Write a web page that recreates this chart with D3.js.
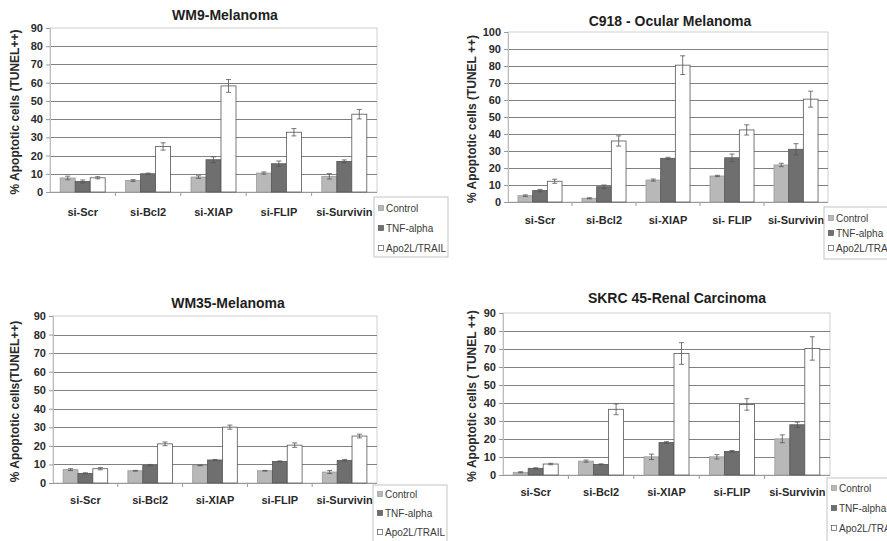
<!DOCTYPE html>
<html>
<head>
<meta charset="utf-8">
<script src="https://cdn.jsdelivr.net/npm/d3@7"></script>
<style>
body{margin:0;background:#fff}
svg{display:block;font-family:"Liberation Sans",Arial,sans-serif}
</style>
</head>
<body>
<svg width="887" height="541"></svg>
<script>
var seriesNames = ["Control", "TNF-alpha", "Apo2L/TRAIL"],
    groups = ["si-Scr", "si-Bcl2", "si-XIAP", "si-FLIP", "si-Survivin"],
    groupsC918 = ["si-Scr", "si-Bcl2", "si-XIAP", "si- FLIP", "si-Survivin"]

// rows: Control, TNF-alpha, Apo2L/TRAIL
var wm9Values = [[7.7, 6.3, 8.2, 10.4, 8.6], [5.8, 10, 17.7, 15.5, 16.8], [7.8, 25, 58.2, 32.8, 42.7]],
    wm9Errors = [[1, 0.5, 0.7, 0.6, 1.5], [0.8, 0.4, 1.6, 1.5, 0.8], [0.6, 2, 3.5, 2, 2.6]]

var c918Values = [[3.7, 2.2, 12.9, 15.3, 21.8], [6.7, 9, 25.7, 26, 31], [12.2, 35.9, 80.5, 42.4, 60.5]],
    c918Errors = [[0.5, 0.3, 0.6, 0.4, 1], [0.7, 1, 0.6, 2.2, 3.3], [1.2, 3, 5.5, 3, 4.7]]

var wm35Values = [[7.2, 6.6, 9.5, 6.6, 5.9], [5.2, 9.6, 12.4, 11.6, 12.2], [7.7, 21.1, 30.1, 20.4, 25.3]],
    wm35Errors = [[0.5, 0.2, 0.2, 0.2, 0.8], [0.3, 0.4, 0.3, 0.3, 0.5], [0.6, 1, 1.1, 1.2, 1]]

var skrcValues = [[1.5, 7.7, 10.1, 10.1, 20.1], [3.7, 5.9, 18, 13.1, 27.9], [6.1, 36.5, 67.5, 39.2, 70.3]],
    skrcErrors = [[0.3, 0.6, 1.5, 1.2, 2.2], [0.3, 0.3, 0.5, 0.5, 1.5], [0.4, 3, 6, 3.2, 6.5]]

var fills = ["#b8b8b8", "#6f6f6f", "#ffffff"],
    strokes = ["#9a9a9a", "#555555", "#555555"]

var panels = [
    {title: "WM9-Melanoma", cats: groups, values: wm9Values, errors: wm9Errors, max: 90,
     yTitle: "% Apoptotic cells (TUNEL++)", left: 50, right: 377, top: 28, bottom: 192,
     titleX: 225, titleY: 15, yTitleX: 15, labelY: 212,
     legend: {x: 374, y: 197, h: 60, first: 11, step: 20}},
    {title: "C918 - Ocular Melanoma", cats: groupsC918, values: c918Values, errors: c918Errors, max: 100,
     yTitle: "% Apoptotic cells (TUNEL ++)", left: 508, right: 828, top: 32, bottom: 202,
     titleX: 670, titleY: 21, yTitleX: 472, labelY: 220,
     legend: {x: 824, y: 207, h: 52, first: 11, step: 15}},
    {title: "WM35-Melanoma", cats: groups, values: wm35Values, errors: wm35Errors, max: 90,
     yTitle: "% Apoptotic cells(TUNEL++)", left: 53, right: 377, top: 316, bottom: 483,
     titleX: 228, titleY: 303, yTitleX: 15, labelY: 500,
     legend: {x: 373, y: 485, h: 60, first: 9, step: 19}},
    {title: "SKRC 45-Renal Carcinoma", cats: groups, values: skrcValues, errors: skrcErrors, max: 90,
     yTitle: "% Apoptotic cells ( TUNEL ++)", left: 503, right: 830, top: 313, bottom: 475,
     titleX: 677, titleY: 298, yTitleX: 472, labelY: 492,
     legend: {x: 827, y: 478, h: 65, first: 10, step: 20}}
]

var svg = d3.select('svg')

panels.forEach(drawPanel)

function drawPanel(p){
    var g = svg.append('g')

    var x0 = d3.scaleBand().domain(p.cats).range([p.left, p.right]),
        x1 = d3.scaleBand().domain(seriesNames).range([0, x0.bandwidth()]).paddingOuter(0.68),
        y = d3.scaleLinear().domain([0, p.max]).range([p.bottom, p.top]),
        ticks = d3.range(0, p.max + 1, 10)

    // plot frame + gridlines
    g.append('rect')
        .attr('x', p.left).attr('y', p.top)
        .attr('width', p.right - p.left).attr('height', p.bottom - p.top)
        .attr('fill', 'none').attr('stroke', '#cfcfcf')

    g.selectAll('.grid')
        .data(ticks.filter(t=>t > 0 && t < p.max))
        .enter().append('line')
        .attr('x1', p.left).attr('x2', p.right)
        .attr('y1', d=>Math.round(y(d)) + 0.5).attr('y2', d=>Math.round(y(d)) + 0.5)
        .attr('stroke', '#808080')

    // y axis
    var yAxis = g.append('g')
        .attr('transform', `translate(${p.left},0)`)
        .call(d3.axisLeft(y).tickValues(ticks).tickSize(4).tickPadding(3))
    yAxis.select('.domain').attr('stroke', '#bdbdbd')
    yAxis.selectAll('.tick line').attr('stroke', '#9a9a9a')
    yAxis.selectAll('text')
        .attr('fill', '#2a2a2a')
        .style('font-size', '11px').style('font-weight', 'bold')

    // x axis
    g.append('line')
        .attr('x1', p.left).attr('x2', p.right)
        .attr('y1', p.bottom + 0.5).attr('y2', p.bottom + 0.5)
        .attr('stroke', '#9a9a9a')
    g.selectAll('.xtick')
        .data(p.cats.slice(1))
        .enter().append('line')
        .attr('x1', d=>x0(d)).attr('x2', d=>x0(d))
        .attr('y1', p.bottom).attr('y2', p.bottom + 4)
        .attr('stroke', '#9a9a9a')
    g.selectAll('.xlabel')
        .data(p.cats)
        .enter().append('text')
        .attr('x', d=>x0(d) + x0.bandwidth() / 2)
        .attr('y', p.labelY)
        .attr('dy', '0.35em')
        .attr('text-anchor', 'middle')
        .attr('fill', '#2a2a2a')
        .style('font-size', '11px').style('font-weight', 'bold')
        .text(d=>d)

    // bars
    var rows = []
    p.values.forEach((vals, s)=>vals.forEach((v, i)=>rows.push({cat: p.cats[i], s: s, v: v, e: p.errors[s][i]})))

    var bar = g.selectAll('.bar')
        .data(rows)
        .enter().append('g')

    bar.append('rect')
        .attr('x', d=>x0(d.cat) + x1(seriesNames[d.s]))
        .attr('y', d=>y(d.v))
        .attr('width', x1.bandwidth())
        .attr('height', d=>y(0) - y(d.v))
        .attr('fill', d=>fills[d.s])
        .attr('stroke', d=>strokes[d.s])
        .attr('stroke-width', 0.8)

    var cx = d=>x0(d.cat) + x1(seriesNames[d.s]) + x1.bandwidth() / 2
    bar.append('line')
        .attr('x1', cx).attr('x2', cx)
        .attr('y1', d=>y(d.v + d.e)).attr('y2', d=>y(d.v - d.e))
        .attr('stroke', '#555').attr('stroke-width', 0.8)
    ;['hi', 'lo'].forEach(k=>{
        bar.append('line')
            .attr('x1', d=>cx(d) - 2.5).attr('x2', d=>cx(d) + 2.5)
            .attr('y1', d=>y(k == 'hi' ? d.v + d.e : d.v - d.e))
            .attr('y2', d=>y(k == 'hi' ? d.v + d.e : d.v - d.e))
            .attr('stroke', '#555').attr('stroke-width', 0.8)
    })

    // titles
    g.append('text')
        .attr('x', p.titleX).attr('y', p.titleY).attr('dy', '0.35em')
        .attr('text-anchor', 'middle')
        .attr('fill', '#1e1e1e')
        .style('font-size', '14px').style('font-weight', 'bold')
        .text(p.title)

    g.append('text')
        .attr('transform', `translate(${p.yTitleX},${(p.top + p.bottom) / 2 + 2}) rotate(-90)`)
        .attr('dy', '0.35em')
        .attr('text-anchor', 'middle')
        .attr('fill', '#2a2a2a')
        .style('font-size', '12px').style('font-weight', 'bold')
        .text(p.yTitle)

    // legend (the right-hand ones run past the page edge, as in the original figure)
    var L = p.legend
    var leg = g.append('g').attr('transform', `translate(${L.x},${L.y})`)
    leg.append('rect')
        .attr('width', 74).attr('height', L.h)
        .attr('fill', '#fff').attr('stroke', '#c4c4c4')
    var item = leg.selectAll('.item')
        .data(seriesNames)
        .enter().append('g')
        .attr('transform', (d, i)=>`translate(4,${L.first + i * L.step})`)
    item.append('rect')
        .attr('x', 0.5).attr('y', -2.5).attr('width', 5).attr('height', 5)
        .attr('fill', (d, i)=>fills[i])
        .attr('stroke', (d, i)=>strokes[i]).attr('stroke-width', 0.7)
    item.append('text')
        .attr('x', 8).attr('dy', '0.35em')
        .attr('fill', '#3a3a3a')
        .style('font-size', '10px')
        .text(d=>d)
}
</script>
</body>
</html>
